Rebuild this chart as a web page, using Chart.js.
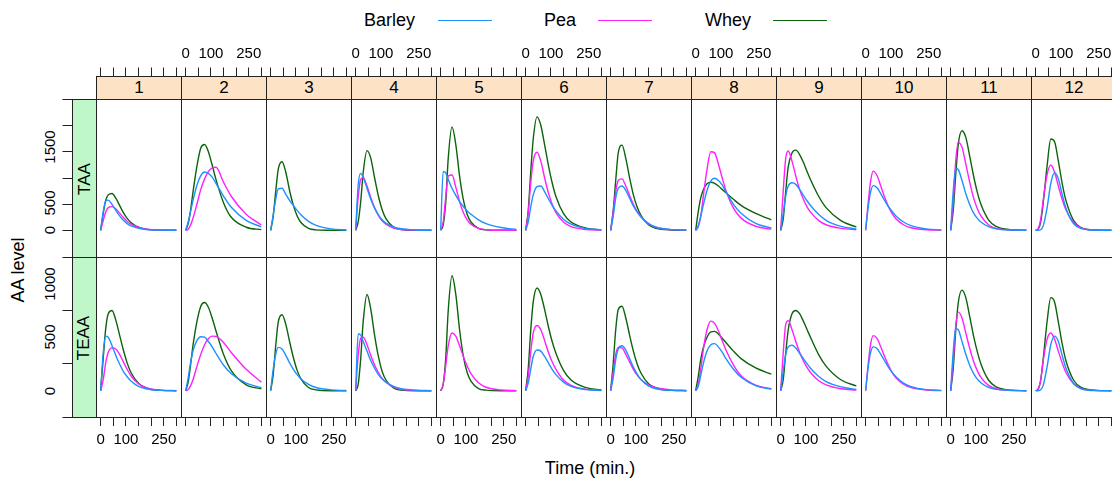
<!DOCTYPE html>
<html>
<head>
<meta charset="utf-8">
<title>AA level by subject</title>
<script src="https://cdn.jsdelivr.net/npm/chart.js@4.4.1/dist/chart.umd.min.js"></script>
<style>
  html, body { margin: 0; padding: 0; background: #fff; }
  body { width: 1112px; height: 484px; position: relative; overflow: hidden;
         font-family: "Liberation Sans", Arial, sans-serif; color: #000; }
  canvas.panel { position: absolute; z-index: 1; }
  .box { position: absolute; box-sizing: border-box; border: 1px solid #222; z-index: 3; pointer-events: none; }
  .strip { position: absolute; box-sizing: border-box; border: 1px solid #222; z-index: 2;
           display: flex; align-items: center; justify-content: center; font-size: 17px; }
  .strip.top { background: #fde2c6; }
  .strip.left { background: #bff7c8; }
  .strip.left span { transform: rotate(-90deg); white-space: nowrap; font-size: 17px; }
  .txt { position: absolute; white-space: nowrap; font-size: 18px; line-height: 22px; }
  .ylab { font-size: 15px; line-height: 17px; }
  .legline { position: absolute; height: 1.4px; }
</style>
</head>
<body>
<script>
// sampling times (min.) of every curve
const TIMES = [0, 10, 20, 30, 45, 60, 75, 90, 105, 120, 150, 180, 240, 300];
const SUBJECTS = ['1', '2', '3', '4', '5', '6', '7', '8', '9', '10', '11', '12'];
const TYPES = ['TAA', 'TEAA'];
const TREATMENTS = ['Barley', 'Pea', 'Whey'];
const COLORS = ['#1e90ff', '#ff1fff', '#0b640b'];

// axis ticks
const X_TICK_LABELS = [0, 100, 250];
const Y_TICK_LABELS_TAA = [0, 500, 1500];
const Y_TICK_LABELS_TEAA = [0, 500, 1000];

// TAA, one row per subject (null = not measured)
const TAA_Barley = [
  [0, 330, 530, 545, 470, 360, 260, 180, 120, 80, 35, 15, 3, 0],
  [0, 150, 350, 560, 820, 990, 1055, 1030, 960, 850, 620, 420, 180, 60],
  [0, 280, 560, 750, 760, 650, 540, 450, 360, 280, 160, 90, 25, 5],
  [0, 820, 1030, 960, 760, 560, 400, 280, 190, 130, 60, 28, 6, 0],
  [0, 1060, 1040, 920, 760, 630, 520, 430, 350, 290, 190, 120, 50, 15],
  [0, 150, 420, 640, 790, 800, 700, 570, 450, 350, 200, 110, 30, 8],
  [0, 250, 580, 760, 800, 720, 580, 440, 330, 240, 120, 55, 12, 3],
  [0, 80, 250, 450, 720, 890, 940, 900, 820, 700, 470, 310, 120, 42],
  [0, 300, 620, 800, 860, 830, 740, 630, 530, 440, 290, 180, 70, 25],
  [0, 420, 700, 808, 770, 660, 540, 430, 340, 260, 150, 85, 25, 7],
  [0, 700, 1120, 1100, 900, 660, 470, 320, 220, 150, 65, 25, 4, 0],
  [0, 0, 10, 80, 400, 850, 1040, 930, 650, 400, 120, 30, 2, 0]
];
const TAA_Pea = [
  [0, 170, 330, 410, 428, 390, 310, 230, 160, 110, 50, 20, 4, 0],
  [0, 20, 100, 230, 480, 740, 930, 1060, 1130, 1140, 870, 620, 290, 95],
  null,
  [0, 600, 920, 950, 800, 590, 410, 270, 170, 110, 40, 15, 2, 0],
  [0, 150, 600, 980, 1000, 780, 520, 320, 190, 110, 35, 10, 0, 0],
  [0, 300, 850, 1250, 1410, 1250, 950, 680, 470, 320, 150, 65, 15, 3],
  [0, 330, 700, 900, 930, 800, 630, 470, 340, 250, 120, 55, 12, 3],
  [0, 60, 250, 600, 1100, 1420, 1400, 1200, 950, 720, 400, 220, 70, 20],
  [0, 700, 1300, 1435, 1250, 980, 740, 560, 420, 320, 180, 100, 35, 10],
  [0, 500, 900, 1070, 990, 800, 600, 430, 300, 210, 100, 45, 10, 2],
  [0, 500, 1250, 1590, 1500, 1200, 880, 600, 400, 260, 100, 35, 5, 0],
  [0, 30, 200, 550, 1000, 1180, 1050, 800, 560, 370, 140, 45, 5, 0]
];
const TAA_Whey = [
  [0, 300, 540, 640, 665, 580, 450, 320, 215, 140, 55, 20, 3, 0],
  [0, 120, 380, 720, 1170, 1490, 1550, 1420, 1180, 920, 500, 240, 55, 12],
  [0, 250, 700, 1100, 1240, 1050, 720, 450, 260, 140, 35, 8, 0, 0],
  [0, 150, 520, 1050, 1440, 1300, 950, 620, 370, 210, 60, 15, 0, 0],
  [0, 100, 500, 1300, 1870, 1550, 980, 550, 290, 150, 35, 8, 0, 0],
  [0, 350, 1050, 1650, 2050, 1900, 1550, 1180, 860, 610, 300, 150, 40, 10],
  [0, 350, 900, 1400, 1540, 1300, 950, 640, 420, 270, 100, 35, 5, 0],
  [0, 330, 580, 730, 840, 868, 850, 800, 740, 680, 560, 450, 300, 190],
  [0, 200, 700, 1150, 1400, 1450, 1370, 1230, 1060, 900, 620, 410, 170, 60],
  null,
  [0, 350, 1000, 1550, 1800, 1680, 1350, 1000, 700, 470, 190, 70, 10, 0],
  [0, 20, 150, 500, 1150, 1650, 1600, 1250, 850, 540, 180, 50, 5, 0]
];

// TEAA, one row per subject
const TEAA_Barley = [
  [0, 350, 510, 500, 420, 330, 250, 180, 130, 90, 40, 18, 3, 0],
  [0, 120, 270, 380, 470, 505, 500, 460, 410, 350, 240, 160, 70, 28],
  [0, 200, 340, 405, 390, 330, 260, 200, 150, 110, 60, 30, 8, 2],
  [0, 530, 520, 460, 370, 280, 210, 150, 110, 80, 40, 18, 4, 1],
  null,
  [0, 70, 200, 320, 380, 370, 320, 260, 200, 150, 80, 40, 10, 2],
  [0, 120, 290, 390, 420, 380, 300, 220, 155, 105, 45, 18, 3, 1],
  [0, 40, 140, 250, 370, 430, 440, 410, 360, 300, 200, 125, 45, 15],
  [0, 180, 340, 410, 425, 400, 350, 300, 250, 205, 135, 85, 35, 12],
  [0, 220, 360, 410, 395, 340, 280, 220, 170, 130, 70, 38, 10, 3],
  [0, 360, 580, 570, 460, 340, 240, 165, 110, 75, 30, 12, 2, 0],
  [0, 0, 8, 50, 220, 430, 510, 460, 330, 210, 70, 18, 1, 0]
];
const TEAA_Pea = [
  [0, 100, 260, 360, 400, 390, 340, 270, 200, 140, 65, 28, 5, 1],
  [0, 10, 50, 110, 230, 340, 430, 485, 510, 508, 450, 360, 200, 80],
  null,
  [0, 330, 490, 500, 430, 330, 240, 170, 115, 80, 35, 14, 3, 0],
  [0, 60, 230, 420, 540, 510, 420, 320, 230, 160, 75, 32, 6, 1],
  [0, 130, 360, 540, 610, 570, 470, 360, 270, 200, 100, 50, 12, 3],
  [0, 170, 340, 405, 400, 340, 270, 200, 145, 105, 55, 28, 8, 2],
  [0, 60, 200, 380, 570, 650, 630, 560, 470, 380, 240, 140, 50, 18],
  [0, 350, 620, 655, 570, 460, 360, 280, 215, 165, 95, 55, 18, 5],
  [0, 250, 440, 515, 490, 410, 320, 240, 170, 120, 60, 28, 6, 1],
  [0, 270, 600, 735, 680, 540, 400, 280, 190, 125, 50, 18, 3, 0],
  [0, 15, 100, 280, 480, 540, 480, 370, 260, 170, 65, 20, 2, 0]
];
const TEAA_Whey = [
  [0, 300, 580, 720, 750, 660, 520, 380, 260, 170, 70, 25, 3, 0],
  [0, 80, 250, 440, 650, 790, 825, 780, 680, 560, 340, 190, 55, 18],
  [0, 150, 420, 640, 710, 620, 460, 310, 190, 110, 30, 8, 0, 0],
  [0, 60, 300, 650, 900, 760, 520, 320, 180, 100, 25, 5, 0, 0],
  [0, 60, 300, 750, 1075, 900, 570, 320, 170, 90, 20, 5, 0, 0],
  [0, 200, 560, 830, 960, 900, 760, 600, 460, 350, 190, 100, 28, 8],
  [0, 250, 570, 760, 790, 680, 520, 370, 250, 165, 65, 25, 3, 0],
  [0, 130, 290, 400, 500, 550, 555, 530, 490, 450, 370, 300, 210, 155],
  [0, 100, 350, 570, 720, 750, 720, 650, 570, 490, 340, 230, 100, 45],
  null,
  [0, 200, 560, 820, 940, 870, 700, 520, 370, 250, 100, 35, 5, 0],
  [0, 15, 100, 300, 640, 870, 830, 640, 440, 280, 100, 30, 3, 0]
];

const SERIES = [
  [TAA_Barley, TAA_Pea, TAA_Whey],
  [TEAA_Barley, TEAA_Pea, TEAA_Whey]
];
const Y_TICK_LABELS = [Y_TICK_LABELS_TAA, Y_TICK_LABELS_TEAA];

// layout (px)
const FONT = '"Liberation Sans", Arial, sans-serif';
const PANEL_LEFT = 96, PANEL_W = 85;
const ROW_TOP = [99, 257], ROW_H = [158, 160];
const X_MIN = -18.5, X_MAX = 318.5;
const Y_RANGE = [[-483, 2374], [-246, 1250]];

function addDiv(cls, css, html) {
  const d = document.createElement('div');
  d.className = cls;
  Object.assign(d.style, css);
  if (html !== undefined) d.innerHTML = html;
  document.body.appendChild(d);
  return d;
}

function makePanel(col, row) {
  const left = PANEL_LEFT + col * PANEL_W;
  const top = ROW_TOP[row], h = ROW_H[row];
  const hasLeft = col === 0, hasTop = row === 0, hasBottom = row === 1;
  const padL = hasLeft ? 60 : 0, padT = hasTop ? 60 : 0, padB = hasBottom ? 40 : 0;

  const cv = document.createElement('canvas');
  cv.className = 'panel';
  cv.width = PANEL_W + padL;
  cv.height = h + padT + padB;
  cv.style.left = (left - padL) + 'px';
  cv.style.top = (top - padT) + 'px';
  cv.style.width = cv.width + 'px';
  cv.style.height = cv.height + 'px';
  document.body.appendChild(cv);

  // labels above even panels, below odd panels
  const showX = hasTop ? (col % 2 === 1) : (col % 2 === 0);

  const datasets = [];
  TREATMENTS.forEach((name, k) => {
    const vals = SERIES[row][k][col];
    if (!vals) return;
    datasets.push({
      label: name,
      data: TIMES.map((t, i) => ({ x: t, y: vals[i] })),
      borderColor: COLORS[k],
      borderWidth: 1.4,
      pointRadius: 0,
      fill: false,
      cubicInterpolationMode: 'monotone'
    });
  });

  const chart = new Chart(cv, {
    type: 'line',
    data: { datasets },
    options: {
      responsive: false,
      animation: false,
      events: [],
      layout: { padding: 0 },
      plugins: { legend: { display: false }, tooltip: { enabled: false } },
      scales: {
        x: {
          type: 'linear',
          min: X_MIN, max: X_MAX,
          display: hasTop || hasBottom,
          position: hasTop ? 'top' : 'bottom',
          afterFit: s => { s.height = hasTop ? padT : padB; s.paddingLeft = 0; s.paddingRight = 0; },
          border: { display: false },
          grid: { drawOnChartArea: false, drawTicks: true, tickLength: hasTop ? 31.5 : 9, color: '#222', lineWidth: 1 },
          ticks: {
            stepSize: 50, includeBounds: false, autoSkip: false,
            minRotation: 0, maxRotation: 0, padding: 5, color: '#000',
            font: { size: 15, family: FONT },
            callback: v => (showX && X_TICK_LABELS.includes(v)) ? String(v) : ''
          }
        },
        y: {
          type: 'linear',
          min: Y_RANGE[row][0], max: Y_RANGE[row][1],
          display: hasLeft,
          position: 'left',
          afterFit: s => { s.width = padL; s.paddingTop = 0; s.paddingBottom = 0; },
          border: { display: false },
          grid: { drawOnChartArea: false, drawTicks: true, tickLength: 33.5, color: '#222', lineWidth: 1 },
          ticks: { stepSize: 500, includeBounds: false, autoSkip: false, display: false }
        }
      }
    }
  });

  // rotated y tick labels, placed with the chart's own y scale
  if (hasLeft) {
    Y_TICK_LABELS[row].forEach(v => {
      const py = top - padT + chart.scales.y.getPixelForValue(v);
      addDiv('txt ylab', { left: '49px', top: py + 'px', transform: 'translate(-50%,-50%) rotate(-90deg)' }, String(v));
    });
  }

  // panel frame
  addDiv('box', { left: left + 'px', top: top + 'px', width: (PANEL_W + 1) + 'px', height: (h + 1) + 'px' });
}

for (let r = 0; r < TYPES.length; r++) {
  for (let c = 0; c < SUBJECTS.length; c++) makePanel(c, r);
}

// strips
SUBJECTS.forEach((s, c) => {
  addDiv('strip top', { left: (PANEL_LEFT + c * PANEL_W) + 'px', top: '76px', width: (PANEL_W + 1) + 'px', height: '24px' }, s);
});
TYPES.forEach((t, r) => {
  addDiv('strip left', { left: '72px', top: ROW_TOP[r] + 'px', width: '25px', height: (ROW_H[r] + 1) + 'px' }, '<span>' + t + '</span>');
});

// legend
const LEG_TEXT_X = [364, 544, 705];
const LEG_LINE_X = [438, 598, 773];
TREATMENTS.forEach((name, k) => {
  addDiv('txt', { left: LEG_TEXT_X[k] + 'px', top: '9px' }, name);
  addDiv('legline', { left: LEG_LINE_X[k] + 'px', top: '20px', width: '54px', background: COLORS[k] });
});

// axis titles
addDiv('txt', { left: '590px', top: '457px', transform: 'translateX(-50%)' }, 'Time (min.)');
addDiv('txt', { left: '18px', top: '270px', transform: 'translate(-50%,-50%) rotate(-90deg)' }, 'AA level');
</script>
</body>
</html>
